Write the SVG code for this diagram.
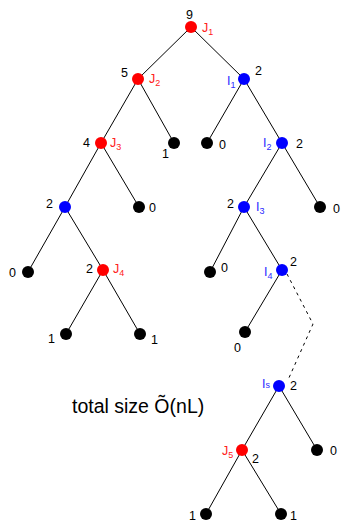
<svg xmlns="http://www.w3.org/2000/svg" width="342" height="522" viewBox="0 0 342 522">
<style>
.e{stroke:#000;stroke-width:1;fill:none}
.d{stroke:#000;stroke-width:1;fill:none;stroke-dasharray:3,4}
.r{fill:#ff0000}
.b{fill:#0000ff}
.k{fill:#000}
text{font-family:"Liberation Sans",Arial,sans-serif;font-size:12.5px}
.tr{fill:#ff2020}
.tb{fill:#2a2aff}
.tk{fill:#000}
.s{font-size:9px}
</style>
<g id="connectors">
<line class="e" x1="191" y1="27" x2="138" y2="79"/>
<line class="e" x1="191" y1="27" x2="244" y2="79"/>
<line class="e" x1="138" y1="79" x2="101" y2="143"/>
<line class="e" x1="138" y1="79" x2="174" y2="143"/>
<line class="e" x1="244" y1="79" x2="207" y2="143"/>
<line class="e" x1="244" y1="79" x2="282" y2="143"/>
<line class="e" x1="101" y1="143" x2="65" y2="207"/>
<line class="e" x1="101" y1="143" x2="139" y2="207"/>
<line class="e" x1="282" y1="143" x2="244" y2="207"/>
<line class="e" x1="282" y1="143" x2="320" y2="207"/>
<line class="e" x1="65" y1="207" x2="28" y2="272"/>
<line class="e" x1="65" y1="207" x2="103" y2="270"/>
<line class="e" x1="244" y1="207" x2="210" y2="272"/>
<line class="e" x1="244" y1="207" x2="282" y2="270"/>
<line class="e" x1="103" y1="270" x2="66" y2="334"/>
<line class="e" x1="103" y1="270" x2="140" y2="334"/>
<line class="e" x1="282" y1="270" x2="245" y2="332"/>
<polyline class="d" points="287,274 313,324 288,380"/>
<line class="e" x1="279" y1="386" x2="242" y2="450"/>
<line class="e" x1="279" y1="386" x2="317" y2="450"/>
<line class="e" x1="242" y1="450" x2="206" y2="514"/>
<line class="e" x1="242" y1="450" x2="281" y2="514"/>
</g>
<g id="J1"><circle class="r" cx="191" cy="27" r="6"/><text class="tk" x="186" y="19">9</text><text class="tr" x="202" y="32">J<tspan class="s" dy="3">1</tspan></text></g>
<g id="J2"><circle class="r" cx="138" cy="79" r="6"/><text class="tk" x="121" y="77">5</text><text class="tr" x="149" y="83">J<tspan class="s" dy="3">2</tspan></text></g>
<g id="I1"><circle class="b" cx="244" cy="79" r="6"/><text class="tb" x="227" y="85">I<tspan class="s" dy="3">1</tspan></text><text class="tk" x="255" y="75">2</text></g>
<g id="J3"><circle class="r" cx="101" cy="143" r="6"/><text class="tk" x="83" y="147">4</text><text class="tr" x="110" y="147">J<tspan class="s" dy="3">3</tspan></text></g>
<g id="L1"><circle class="k" cx="174" cy="143" r="6"/><text class="tk" x="162" y="158">1</text></g>
<g id="L2"><circle class="k" cx="207" cy="143" r="6"/><text class="tk" x="219" y="149">0</text></g>
<g id="I2"><circle class="b" cx="282" cy="143" r="6"/><text class="tb" x="263" y="147">I<tspan class="s" dy="3">2</tspan></text><text class="tk" x="296" y="148">2</text></g>
<g id="B1"><circle class="b" cx="65" cy="207" r="6"/><text class="tk" x="46" y="208">2</text></g>
<g id="L3"><circle class="k" cx="139" cy="207" r="6"/><text class="tk" x="149" y="212">0</text></g>
<g id="I3"><circle class="b" cx="244" cy="207" r="6"/><text class="tk" x="227" y="208">2</text><text class="tb" x="256" y="211">I<tspan class="s" dy="3">3</tspan></text></g>
<g id="L4"><circle class="k" cx="320" cy="207" r="6"/><text class="tk" x="333" y="213">0</text></g>
<g id="L5"><circle class="k" cx="28" cy="272" r="6"/><text class="tk" x="9" y="277">0</text></g>
<g id="J4"><circle class="r" cx="103" cy="270" r="6"/><text class="tk" x="86" y="273">2</text><text class="tr" x="113" y="273">J<tspan class="s" dy="3">4</tspan></text></g>
<g id="L6"><circle class="k" cx="210" cy="272" r="6"/><text class="tk" x="221" y="272">0</text></g>
<g id="I4"><circle class="b" cx="282" cy="270" r="6"/><text class="tb" x="264" y="276">I<tspan class="s" dy="3">4</tspan></text><text class="tk" x="290" y="266">2</text></g>
<g id="L7"><circle class="k" cx="66" cy="334" r="6"/><text class="tk" x="48" y="343">1</text></g>
<g id="L8"><circle class="k" cx="140" cy="334" r="6"/><text class="tk" x="151" y="344">1</text></g>
<g id="L9"><circle class="k" cx="245" cy="332" r="6"/><text class="tk" x="234" y="352">0</text></g>
<g id="Is"><circle class="b" cx="279" cy="386" r="6"/><text class="tb" x="262" y="388">I<tspan class="s" dy="0">s</tspan></text><text class="tk" x="290" y="390">2</text></g>
<g id="caption"><text class="tk" x="72" y="413" style="font-size:19.5px">total size Õ(nL)</text></g>
<g id="J5"><circle class="r" cx="242" cy="450" r="6"/><text class="tr" x="222" y="455">J<tspan class="s" dy="3">5</tspan></text><text class="tk" x="252" y="463">2</text></g>
<g id="L10"><circle class="k" cx="317" cy="450" r="6"/><text class="tk" x="330" y="455">0</text></g>
<g id="L11"><circle class="k" cx="206" cy="514" r="6"/><text class="tk" x="189" y="520">1</text></g>
<g id="L12"><circle class="k" cx="281" cy="514" r="6"/><text class="tk" x="290" y="520">1</text></g>
</svg>
